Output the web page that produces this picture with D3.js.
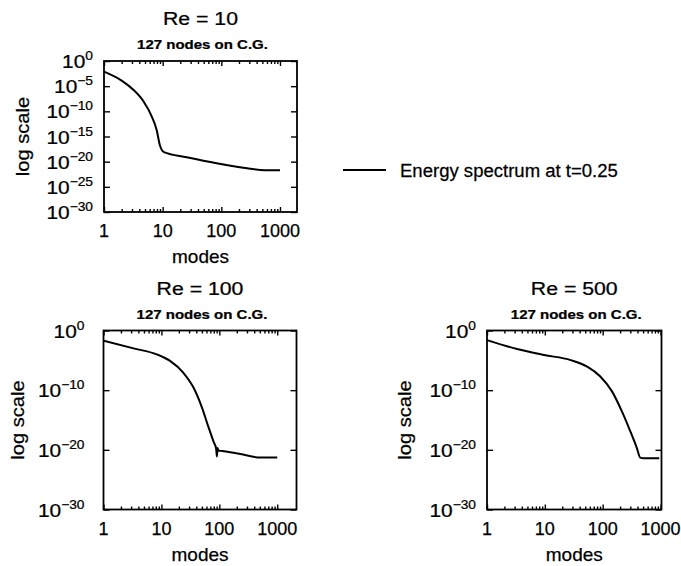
<!DOCTYPE html>
<html>
<head>
<meta charset="utf-8">
<script src="https://cdn.jsdelivr.net/npm/d3@7"></script>
<style>
  body { margin: 0; background: #fff; }
  svg text { font-family: "Liberation Sans", Arial, sans-serif; fill: #000; stroke: #000; stroke-width: 0.25px; }
</style>
</head>
<body>
<svg id="chart" width="681" height="566"></svg>
<script>
// data
var modesRe10 = [1, 2, 3.16, 4.7, 6.5, 7.9, 9, 10.5, 25.7, 83, 236, 555, 1000];
var energyRe10 = [7.9e-3, 1.3e-4, 2.0e-6, 1e-8, 1e-11, 2.0e-14, 1.6e-17, 7.9e-19, 7.9e-20, 5.0e-21, 6.3e-22, 2.0e-22, 2.0e-22];

var modesRe100 = [1, 3.3, 8.3, 14.1, 24, 36, 50, 65, 80, 88, 91, 93, 96, 112, 230, 512, 1000];
var energyRe100 = [2.0e-2, 1e-3, 1e-4, 7.9e-6, 7.9e-8, 2.5e-10, 1.3e-13, 6.3e-17, 2.0e-19, 1.6e-20, 7.9e-22, 2.0e-20, 7.9e-21, 6.3e-21, 2.0e-21, 5.0e-22, 5.0e-22];

var modesRe500 = [1, 3.3, 9.7, 28, 54, 91, 145, 216, 300, 390, 447, 510, 950];
var energyRe500 = [2.5e-2, 7.9e-4, 7.9e-5, 1.1e-5, 8.9e-7, 2.0e-8, 6.3e-11, 2.5e-14, 1.3e-17, 2.0e-20, 5.0e-22, 4.0e-22, 4.0e-22];

var titles = ['Re = 10', 'Re = 100', 'Re = 500'];
var subtitle = '127 nodes on C.G.';
var xTickLabels = [1, 10, 100, 1000];
var yExpFine = [0, -5, -10, -15, -20, -25, -30];
var yExpCoarse = [0, -10, -20, -30];
var legendText = 'Energy spectrum at t=0.25';

var svg = d3.select('#chart');

var panels = [
  {title: titles[0], modes: modesRe10, energy: energyRe10, yExp: yExpFine,
   left: 104, top: 61, right: 297, bottom: 212, xMax: 1950, labGap: 11, ylabX: 22},
  {title: titles[1], modes: modesRe100, energy: energyRe100, yExp: yExpCoarse,
   left: 103.5, top: 330.5, right: 296.5, bottom: 509.5, xMax: 2150, labGap: 19, ylabX: 17},
  {title: titles[2], modes: modesRe500, energy: energyRe500, yExp: yExpCoarse,
   left: 487, top: 330.5, right: 661.5, bottom: 509.5, xMax: 1040, labGap: 11, ylabX: 404}
];

function label(parent, x, y, txt, size, anchor, sx, rot) {
  var t = parent.append('g')
    .attr('transform', 'translate(' + x + ',' + y + ')' + (rot ? ' rotate(' + rot + ')' : '') + ' scale(' + sx + ',1)')
    .append('text')
    .attr('text-anchor', anchor)
    .attr('font-size', size);
  if (txt !== null) t.text(txt);
  return t;
}

function minorTicks(max) {
  var out = [];
  for (var p = 1; p <= 1000; p *= 10) {
    for (var k = 2; k <= 9; k++) {
      if (k * p <= max && k * p <= 1000) out.push(k * p);
    }
  }
  return out;
}

panels.forEach(function(p) {
  var x = d3.scaleLog().domain([1, p.xMax]).range([p.left, p.right]);
  var y = d3.scaleLog().domain([1, 1e-30]).range([p.top, p.bottom]);
  var cx = (p.left + p.right) / 2;
  var g = svg.append('g');

  // ticks inside the frame, top and bottom
  var majors = xTickLabels.filter(function(d) { return d <= p.xMax; });
  var minors = minorTicks(p.xMax);
  [[d3.axisBottom, p.bottom], [d3.axisTop, p.top]].forEach(function(a) {
    g.append('g').attr('transform', 'translate(0,' + a[1] + ')')
      .call(a[0](x).tickValues(minors).tickSize(-3).tickFormat(''));
    g.append('g').attr('transform', 'translate(0,' + a[1] + ')')
      .call(a[0](x).tickValues(majors).tickSize(-5).tickFormat(''));
  });
  var yTickVals = p.yExp.map(function(e) { return Math.pow(10, e); });
  g.append('g').attr('transform', 'translate(' + p.left + ',0)')
    .call(d3.axisLeft(y).tickValues(yTickVals).tickSize(-6).tickFormat(''));
  g.append('g').attr('transform', 'translate(' + p.right + ',0)')
    .call(d3.axisRight(y).tickValues(yTickVals).tickSize(-6).tickFormat(''));
  g.selectAll('.domain').remove();
  g.selectAll('.tick line').attr('stroke', '#000').attr('stroke-width', 1.4);

  // frame
  g.append('rect')
    .attr('x', p.left).attr('y', p.top)
    .attr('width', p.right - p.left).attr('height', p.bottom - p.top)
    .attr('fill', 'none').attr('stroke', '#000').attr('stroke-width', 1.8);

  // x labels
  majors.forEach(function(d) {
    label(g, x(d), p.bottom + 25, String(d), 18, 'middle', 1.0);
  });

  // y labels 10^n
  p.yExp.forEach(function(e) {
    var t = label(g, p.left - p.labGap, y(Math.pow(10, e)) + 7, null, 19, 'end', 1.1);
    t.append('tspan').text('10');
    t.append('tspan').attr('dy', -8).attr('font-size', 12.5).text(e === 0 ? '0' : '\u2212' + (-e));
  });

  label(g, cx, p.bottom + 51, 'modes', 19, 'middle', 1.0);
  label(g, p.ylabX + 7, (p.top + p.bottom) / 2, 'log scale', 19, 'middle', 1.06, -90);
  label(g, cx, p.top - 36, p.title, 18.5, 'middle', 1.15);
  label(g, cx + 2, p.top - 12, subtitle, 12.5, 'middle', 1.2).attr('font-weight', 'bold');

  // spectrum curve
  var pts = p.modes.map(function(m, i) { return [m, p.energy[i]]; });
  var line = d3.line()
    .x(function(d) { return x(d[0]); })
    .y(function(d) { return y(d[1]); })
    .curve(d3.curveMonotoneX);
  g.append('path').datum(pts)
    .attr('d', line)
    .attr('fill', 'none').attr('stroke', '#000').attr('stroke-width', 2);
});

// legend
var lg = svg.append('g');
lg.append('line').attr('x1', 343).attr('x2', 386).attr('y1', 170).attr('y2', 170)
  .attr('stroke', '#000').attr('stroke-width', 2);
label(lg, 400, 177, legendText, 18, 'start', 1.03);
</script>
</body>
</html>
